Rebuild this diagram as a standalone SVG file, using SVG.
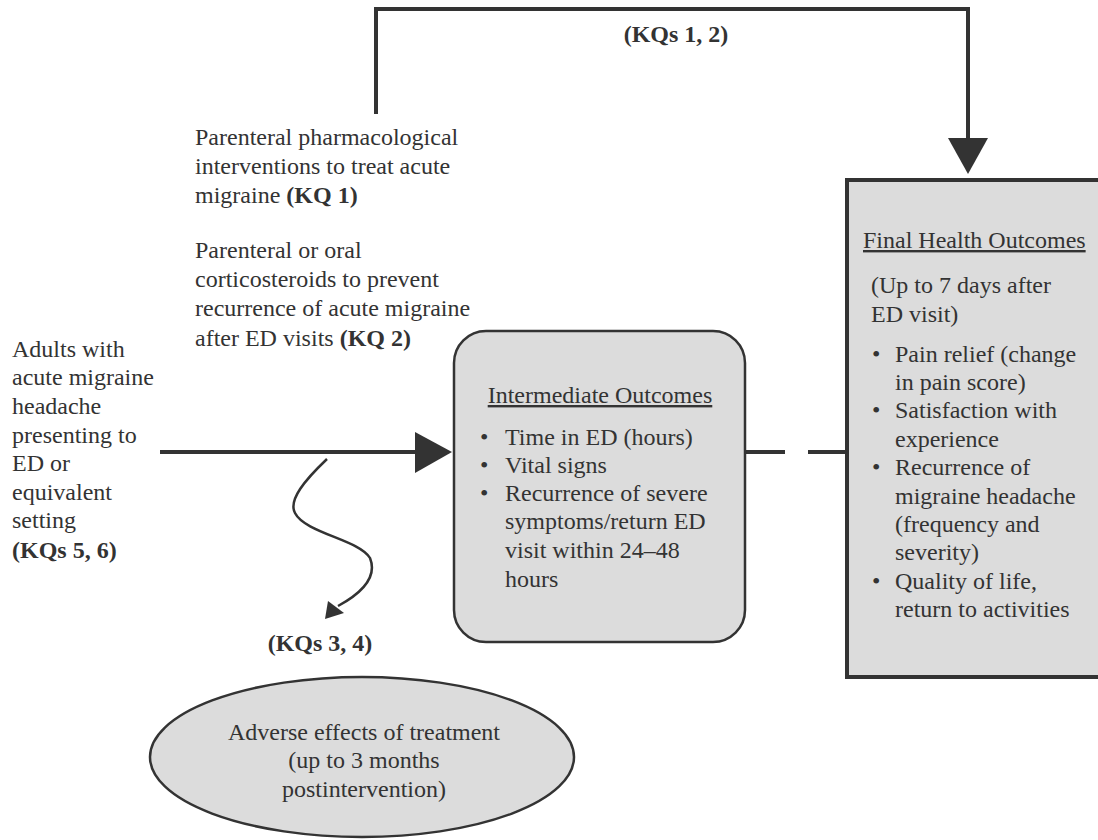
<svg xmlns="http://www.w3.org/2000/svg" width="1098" height="840" viewBox="0 0 1098 840" font-family="'Liberation Serif', 'Times New Roman', serif">
<style>
text{font-family:'Liberation Serif','Times New Roman',serif;font-size:24px;fill:#333}
.b{font-weight:bold}
.u{text-decoration:underline}
.m{text-anchor:middle}
.ln{stroke:#333;stroke-width:4;fill:none}
.box{fill:#dcdcdc;stroke:#333}
</style>
<rect width="1098" height="840" fill="#fff"/>
<g id="connectors">
<polyline class="ln" points="376,114 376,9 968,9 968,140"/>
<polygon points="948,138 988,138 968,174" fill="#333"/>
<text class="b m" x="676" y="42">(KQs 1, 2)</text>
<line class="ln" x1="160" y1="452" x2="418" y2="452"/>
<polygon points="415,432 415,473 452,452" fill="#333"/>
<line class="ln" x1="745" y1="452" x2="785" y2="452"/>
<line class="ln" x1="808" y1="452" x2="846" y2="452"/>
<path d="M327,459 C305,480 288,500 295,513 C305,533 360,540 370,558 C378,578 360,594 338,606" stroke="#333" stroke-width="2.5" fill="none"/>
<polygon points="325,619 328,601 344,613" fill="#333"/>
<text class="b m" x="320" y="651">(KQs 3, 4)</text>
</g>
<g id="population">
<text x="12" y="357">Adults with</text>
<text x="12" y="385">acute migraine</text>
<text x="12" y="414">headache</text>
<text x="12" y="443">presenting to</text>
<text x="12" y="471">ED or</text>
<text x="12" y="500">equivalent</text>
<text x="12" y="528">setting</text>
<text class="b" x="12" y="558">(KQs 5, 6)</text>
</g>
<g id="interventions">
<text x="195" y="145">Parenteral pharmacological</text>
<text x="195" y="174">interventions to treat acute</text>
<text x="195" y="203">migraine <tspan class="b">(KQ 1)</tspan></text>
<text x="195" y="258">Parenteral or oral</text>
<text x="195" y="287">corticosteroids to prevent</text>
<text x="195" y="316">recurrence of acute migraine</text>
<text x="195" y="346">after ED visits <tspan class="b">(KQ 2)</tspan></text>
</g>
<g id="intermediate">
<rect class="box" x="454" y="331" width="291" height="311" rx="32" stroke-width="2.5"/>
<text class="u m" x="600" y="403">Intermediate Outcomes</text>
<text x="480" y="445">•</text><text x="505" y="445">Time in ED (hours)</text>
<text x="480" y="473">•</text><text x="505" y="473">Vital signs</text>
<text x="480" y="501">•</text><text x="505" y="501">Recurrence of severe</text>
<text x="505" y="529">symptoms/return ED</text>
<text x="505" y="558">visit within 24–48</text>
<text x="505" y="587">hours</text>
</g>
<g id="final">
<rect class="box" x="847" y="180" width="260" height="497" stroke-width="4"/>
<text class="u" x="863" y="248">Final Health Outcomes</text>
<text x="871" y="293">(Up to 7 days after</text>
<text x="871" y="322">ED visit)</text>
<text x="872" y="362">•</text><text x="895" y="362">Pain relief (change</text>
<text x="895" y="390">in pain score)</text>
<text x="872" y="418">•</text><text x="895" y="418">Satisfaction with</text>
<text x="895" y="447">experience</text>
<text x="872" y="475">•</text><text x="895" y="475">Recurrence of</text>
<text x="895" y="504">migraine headache</text>
<text x="895" y="532">(frequency and</text>
<text x="895" y="560">severity)</text>
<text x="872" y="589">•</text><text x="895" y="589">Quality of life,</text>
<text x="895" y="617">return to activities</text>
</g>
<g id="adverse">
<ellipse class="box" cx="362" cy="757" rx="212" ry="80" stroke-width="2.5"/>
<text class="m" x="364" y="740">Adverse effects of treatment</text>
<text class="m" x="364" y="768">(up to 3 months</text>
<text class="m" x="364" y="797">postintervention)</text>
</g>
</svg>
